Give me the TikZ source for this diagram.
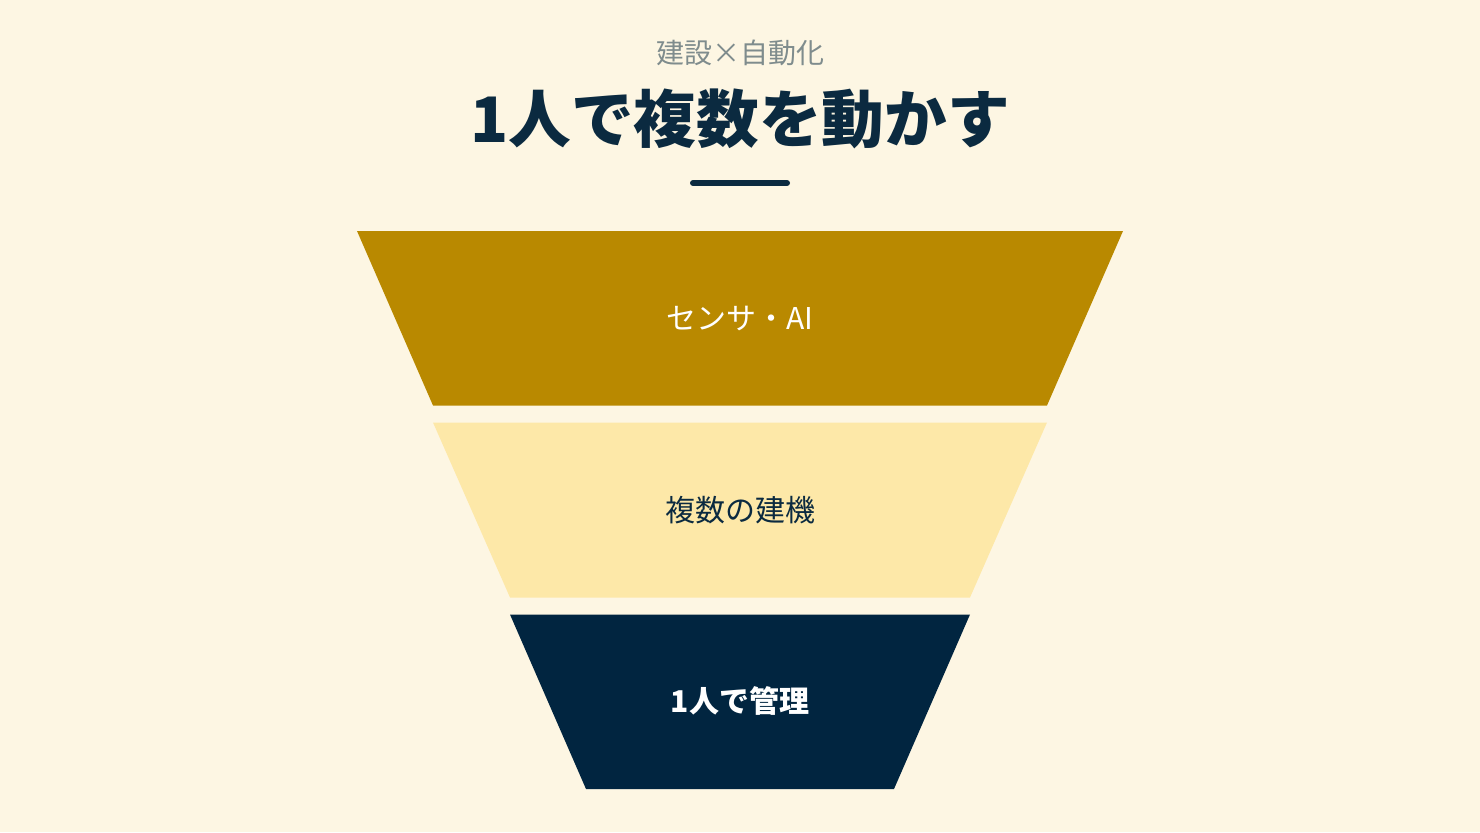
\documentclass[tikz,border=0pt]{standalone}
\usepackage{fontspec}
\setmainfont{Noto Sans CJK JP}
\definecolor{bg}{HTML}{FDF6E3}
\definecolor{gold}{HTML}{B98900}
\definecolor{pale}{HTML}{FDE8A8}
\definecolor{navy}{HTML}{012540}
\definecolor{titlec}{HTML}{0B2A40}
\definecolor{subc}{HTML}{7F8C8D}
\tikzset{
  lbl/.style={inner sep=0pt, font=\fontsize{22.5}{26}\selectfont},
}
\begin{document}
\begin{tikzpicture}[x=0.75pt,y=-0.75pt]
\fill[bg] (0,0) rectangle (1480,832);
\useasboundingbox (0,0) rectangle (1480,832);
\node[inner sep=0pt, text=subc, font=\fontsize{21}{24}\selectfont] (sub) at (740,53) {建設×自動化};
\node[inner sep=0pt, text=titlec, font=\fontsize{47}{52}\bfseries\selectfont] (title) at (740,119) {1人で複数を動かす};
\coordinate (r1) at (693,183);
\coordinate (r2) at (787,183);
\draw[titlec, line width=4.5pt, line cap=round] (r1) -- (r2);
\fill[gold] (357,231) -- (1123,231) -- (1047,405.5) -- (433,405.5) -- cycle;
\fill[pale] (433,422.5) -- (1047,422.5) -- (970,597.5) -- (510,597.5) -- cycle;
\fill[navy] (510,614.5) -- (970,614.5) -- (894,789) -- (586,789) -- cycle;
\node[lbl, text=white] (t1) at (740,319) {センサ・AI};
\node[lbl, text=titlec] (t2) at (740,510) {複数の建機};
\node[lbl, text=white, font=\fontsize{22.5}{26}\bfseries\selectfont] (t3) at (740,701) {1人で管理};
\end{tikzpicture}
\end{document}
